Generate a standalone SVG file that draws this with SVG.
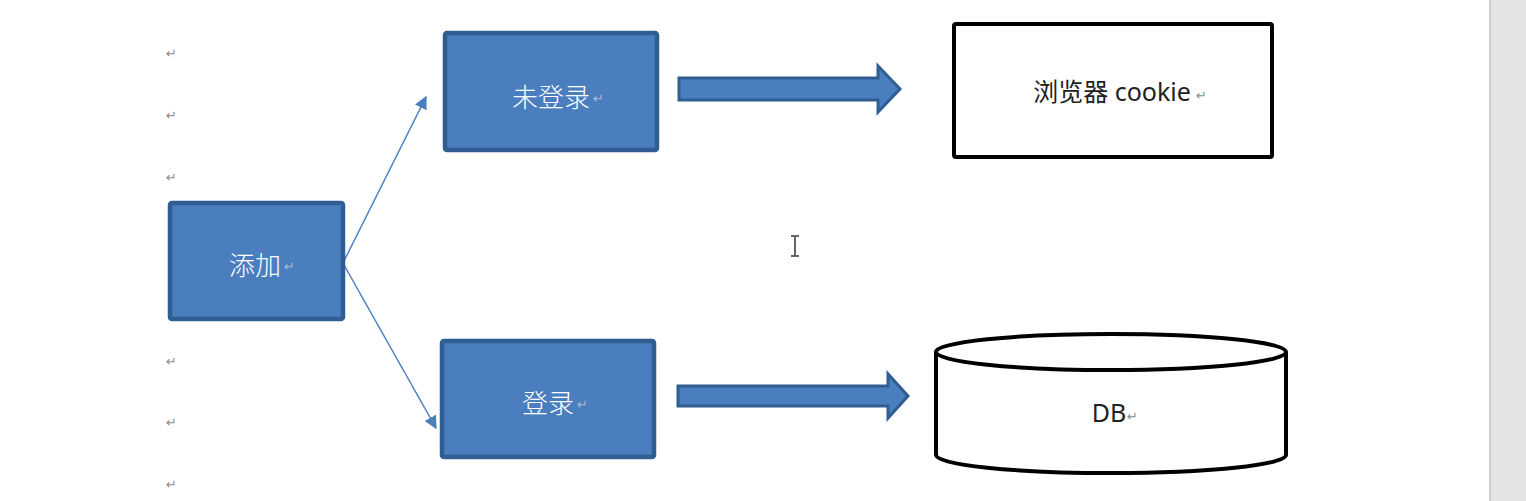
<svg xmlns="http://www.w3.org/2000/svg" width="1526" height="501" viewBox="0 0 1526 501">
  <style>
    .box { fill: #4a7ebf; stroke: #305d92; stroke-width: 4.5; }
    .lbl { font-family: "Noto Sans CJK SC", "Noto Sans", sans-serif; font-size: 26px; font-weight: 300; fill: #ffffff; text-anchor: middle; dominant-baseline: central; }
    .blk { font-family: "Noto Sans", "Noto Sans CJK SC", sans-serif; font-size: 25px; fill: #222222; text-anchor: middle; dominant-baseline: central; }
    .pm { font-family: "DejaVu Sans", sans-serif; font-size: 13px; fill: #8a8a8a; }
    .pmw { font-family: "DejaVu Sans", sans-serif; font-size: 13px; fill: #a9b9cf; }
    .thin { stroke: #4a7ebf; stroke-width: 1.5; fill: none; }
    .fat { fill: #4a7ebf; stroke: #305d92; stroke-width: 3; stroke-linejoin: miter; }
    .outline { fill: #ffffff; stroke: #000000; stroke-width: 4; }
  </style>
  <defs>
    <marker id="ah" viewBox="0 0 10 10" refX="9" refY="5" markerWidth="13" markerHeight="13" markerUnits="userSpaceOnUse" orient="auto">
      <path d="M0,0 L10,5 L0,10 z" fill="#4a7ebf"/>
    </marker>
  </defs>
  <rect width="1526" height="501" fill="#ffffff"/>
  <rect x="1490" y="0" width="36" height="501" fill="#e4e4e4"/>
  <line x1="1490" y1="0" x2="1490" y2="501" stroke="#cfcfcf" stroke-width="2"/>

  <g id="para-marks">
    <text class="pm" x="166" y="58">↵</text>
    <text class="pm" x="166" y="120">↵</text>
    <text class="pm" x="166" y="182">↵</text>
    <text class="pm" x="166" y="366">↵</text>
    <text class="pm" x="166" y="427">↵</text>
    <text class="pm" x="166" y="489">↵</text>
  </g>

  <g id="connectors">
    <line class="thin" x1="344" y1="261" x2="426" y2="97" marker-end="url(#ah)"/>
    <line class="thin" x1="344" y1="265" x2="436" y2="428" marker-end="url(#ah)"/>
    <path class="fat" d="M679,78 L878,78 L878,66 L900,89 L878,112 L878,100 L679,100 Z"/>
    <path class="fat" d="M678,386 L888,386 L888,374 L908,396 L888,418 L888,406 L678,406 Z"/>
  </g>

  <g id="node-add">
    <rect class="box" x="170" y="203" width="173" height="116" rx="2"/>
    <text class="lbl" x="255" y="263">添加</text>
    <text class="pmw" x="284" y="271">↵</text>
  </g>

  <g id="node-notlogged">
    <rect class="box" x="445" y="33" width="212" height="117" rx="2"/>
    <text class="lbl" x="551" y="95">未登录</text>
    <text class="pmw" x="593" y="103">↵</text>
  </g>

  <g id="node-logged">
    <rect class="box" x="442" y="341" width="212" height="116" rx="2"/>
    <text class="lbl" x="548" y="401">登录</text>
    <text class="pmw" x="577" y="409">↵</text>
  </g>

  <g id="node-cookie">
    <rect class="outline" x="954" y="24" width="318" height="133" rx="2"/>
    <text class="blk" x="1112" y="91">浏览器 cookie</text>
    <text class="pm" x="1196" y="100">↵</text>
  </g>

  <g id="node-db">
    <path class="outline" d="M936,352 L936,455 A175,18 0 0 0 1286,455 L1286,352"/>
    <ellipse class="outline" cx="1111" cy="352" rx="175" ry="18"/>
    <text class="blk" x="1109" y="412">DB</text>
    <text class="pm" x="1127" y="421">↵</text>
  </g>

  <g id="cursor">
    <line x1="795" y1="237" x2="795" y2="255" stroke="#333" stroke-width="1.5"/>
    <line x1="791" y1="236" x2="799" y2="236" stroke="#333" stroke-width="1.5"/>
    <line x1="791" y1="256" x2="799" y2="256" stroke="#333" stroke-width="1.5"/>
  </g>
</svg>
